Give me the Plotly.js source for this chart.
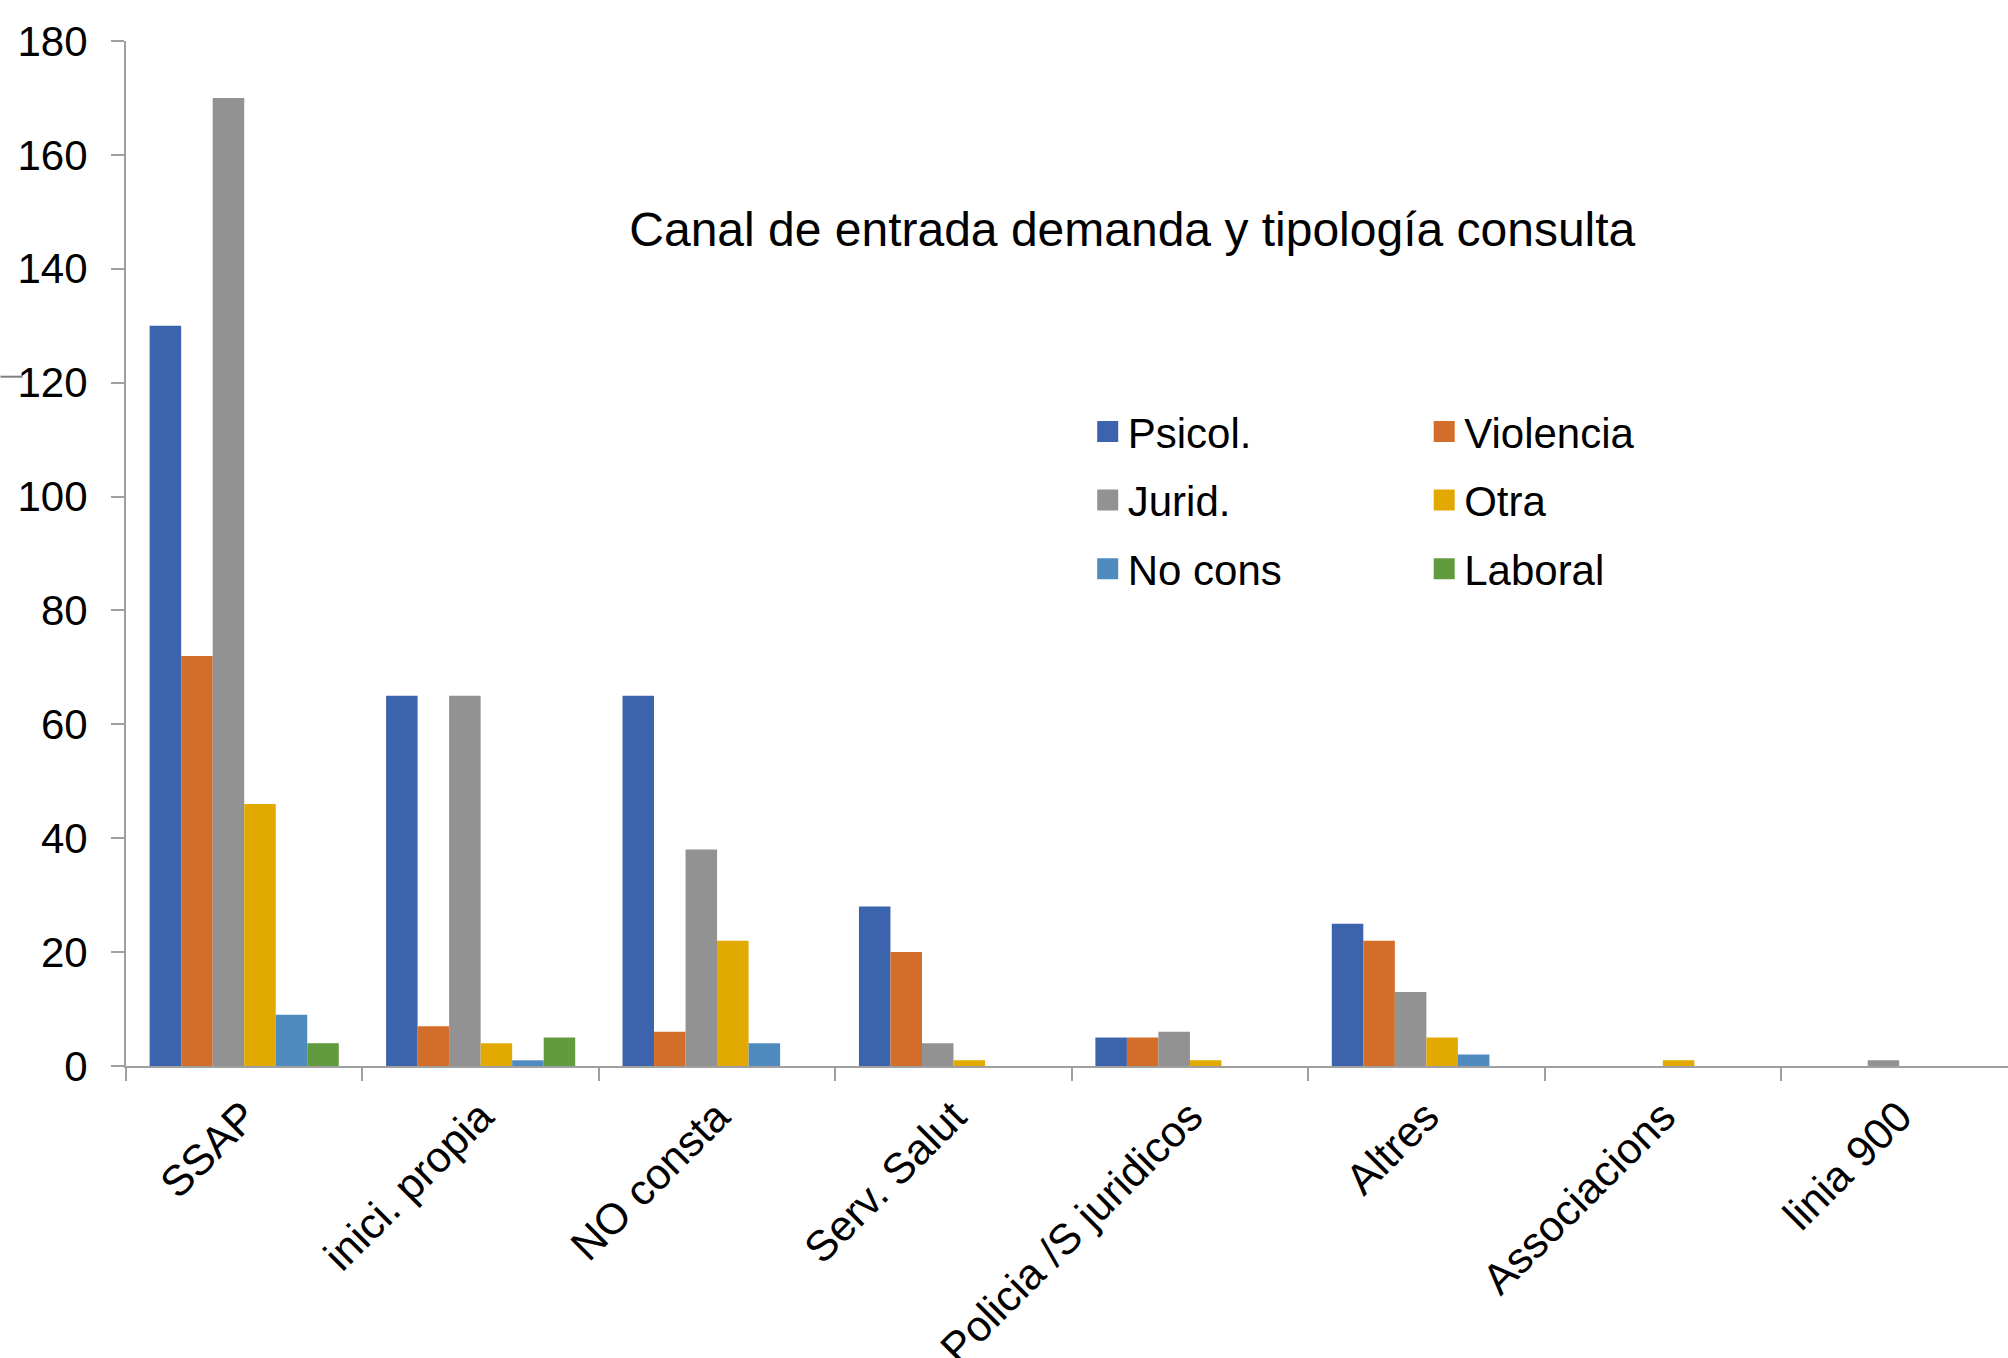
<!DOCTYPE html>
<html>
<head>
<meta charset="utf-8">
<script src="https://cdn.plot.ly/plotly-3.0.1.min.js"></script>
<style>html,body{margin:0;padding:0;background:#fff;overflow:hidden}#chart{width:2008px;height:1358px}</style>
</head>
<body>
<div id="chart"></div>
<script>
const categories = ["SSAP", "inici. propia", "NO consta", "Serv. Salut", "Policia /S juridicos", "Altres", "Associacions", "linia 900"];
const seriesNames = ["Psicol.", "Violencia", "Jurid.", "Otra", "No cons", "Laboral"];
const psicol    = [130, 65, 65, 28, 5, 25, 0, 0];
const violencia = [72, 7, 6, 20, 5, 22, 0, 0];
const jurid     = [170, 65, 38, 4, 6, 13, 0, 1];
const otra      = [46, 4, 22, 1, 1, 5, 1, 0];
const noCons    = [9, 1, 4, 0, 0, 2, 0, 0];
const laboral   = [4, 5, 0, 0, 0, 0, 0, 0];
const yTicks = [0, 20, 40, 60, 80, 100, 120, 140, 160, 180];
const chartTitle = "Canal de entrada demanda y tipología consulta";

const seriesValues = [psicol, violencia, jurid, otra, noCons, laboral];
const colors = ["#3C64AD", "#D36D2A", "#929292", "#E2AA00", "#508BBF", "#629A3E"];
const legendFor = ["legend", "legend2", "legend", "legend2", "legend", "legend2"];
const FONT = "Liberation Sans, Arial, sans-serif";

const barTraces = seriesNames.map((name, i) => ({
  type: "bar",
  name: name,
  x: categories,
  y: seriesValues[i],
  marker: {color: colors[i], line: {width: 0}},
  legendgroup: "g" + i,
  showlegend: false,
  hoverinfo: "x+y+name"
}));

// legend-only entries (larger square symbols, like the original legend)
const legendTraces = seriesNames.map((name, i) => ({
  type: "scatter",
  mode: "markers",
  name: name,
  x: [null],
  y: [null],
  marker: {symbol: "square", size: 16, color: colors[i], line: {color: colors[i], width: 5}},
  legend: legendFor[i],
  legendgroup: "g" + i,
  showlegend: true,
  hoverinfo: "skip"
}));

const legendCommon = {
  font: {family: FONT, size: 42, color: "#000"},
  bgcolor: "rgba(0,0,0,0)",
  borderwidth: 0,
  yanchor: "top",
  xanchor: "left",
  y: 0.652,
  traceorder: "grouped",
  tracegroupgap: 11,
  itemclick: false
};

const layout = {
  width: 2008,
  height: 1358,
  margin: {l: 126, r: 0, t: 41, b: 292, pad: 0},
  paper_bgcolor: "#fff",
  plot_bgcolor: "#fff",
  font: {family: FONT, size: 40, color: "#000"},
  barmode: "group",
  bargap: 0.2,
  bargroupgap: 0,
  title: {
    text: chartTitle,
    font: {family: FONT, size: 48, color: "#000"},
    xref: "paper", yref: "paper",
    x: 0.5347, y: 0.816,
    xanchor: "center", yanchor: "middle"
  },
  xaxis: {
    type: "category",
    range: [-0.5, 7.46],
    showline: true, linecolor: "#A0A0A0", linewidth: 2,
    ticks: "outside", tickson: "boundaries", ticklen: 13, tickcolor: "#A0A0A0", tickwidth: 2,
    tickangle: -45,
    ticklabelstandoff: 6,
    tickfont: {family: FONT, size: 43, color: "#000"},
    showgrid: false, zeroline: false,
    fixedrange: true
  },
  yaxis: {
    range: [0, 180],
    tickvals: yTicks,
    ticktext: yTicks.map(String),
    showline: true, linecolor: "#A0A0A0", linewidth: 2,
    ticks: "outside", ticklen: 13, tickcolor: "#A0A0A0", tickwidth: 2,
    ticklabelstandoff: 15,
    tickfont: {family: FONT, size: 42, color: "#000"},
    showgrid: false, zeroline: false,
    fixedrange: true
  },
  legend: Object.assign({}, legendCommon, {x: 0.511}),
  legend2: Object.assign({}, legendCommon, {x: 0.6898}),
  shapes: [{
    type: "line", xref: "paper", yref: "paper",
    x0: -0.0667, x1: -0.055, y0: 0.6725, y1: 0.6725,
    line: {color: "#808080", width: 2}
  }],
  showlegend: true
};

Plotly.newPlot("chart", barTraces.concat(legendTraces), layout, {displayModeBar: false, staticPlot: true});
</script>
</body>
</html>
